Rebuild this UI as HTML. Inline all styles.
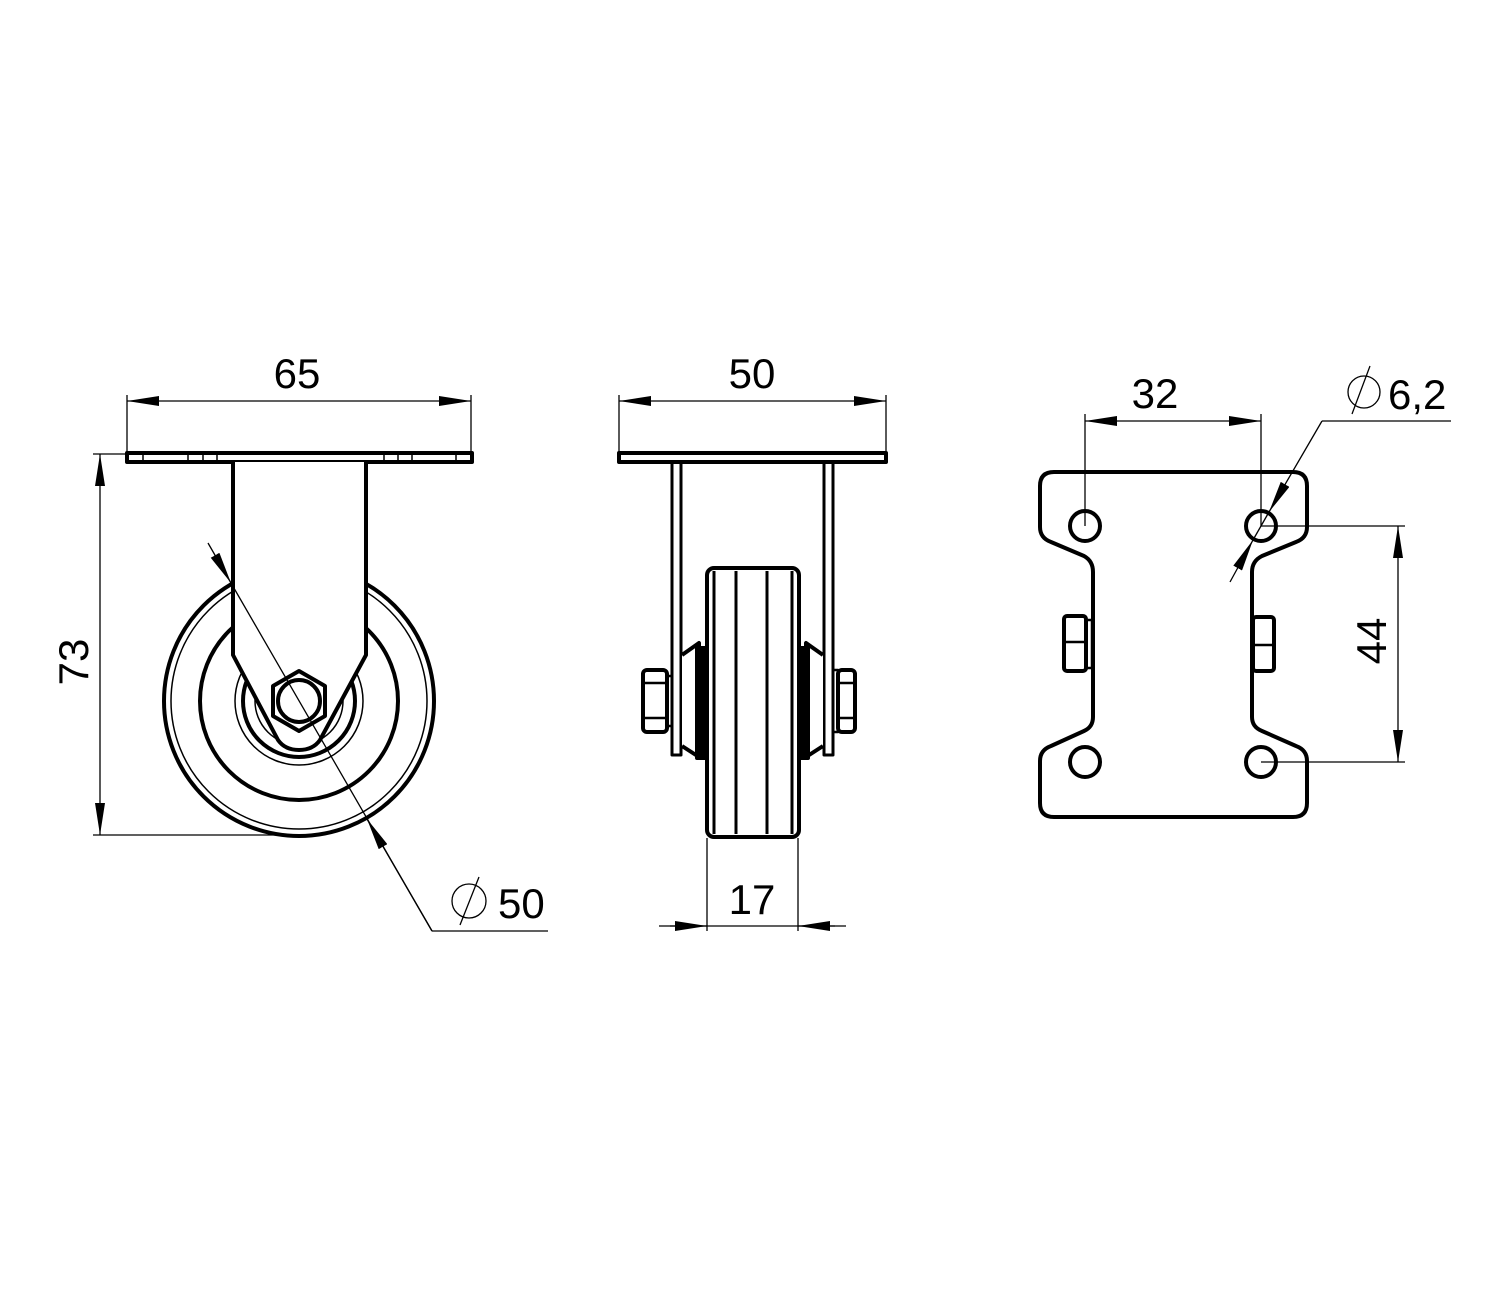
<!DOCTYPE html>
<html><head><meta charset="utf-8"><style>
html,body{margin:0;padding:0;background:#fff}
svg{display:block}
text{font-family:"Liberation Sans",sans-serif;font-size:42px;fill:#000}
</style></head><body>
<svg width="1500" height="1300" viewBox="0 0 1500 1300" xmlns="http://www.w3.org/2000/svg">
<defs>
<marker id="a" viewBox="0 0 32 10" refX="32" refY="5" markerWidth="32" markerHeight="10" markerUnits="userSpaceOnUse" orient="auto"><path d="M0,0 L32,5 L0,10 z" fill="#000"/></marker>
</defs>
<g fill="none" stroke="#000">
<g stroke-width="4" stroke-linejoin="round">
<rect x="127" y="453" width="345" height="9"/>
<circle cx="299" cy="701" r="135"/>
<circle cx="299" cy="701" r="99"/>
<circle cx="299" cy="701" r="56"/>
</g>
<circle cx="299" cy="701" r="128" stroke-width="1.5"/>
<circle cx="299" cy="701" r="64" stroke-width="1.5"/>
<circle cx="299" cy="701" r="44" stroke-width="1.5"/>
<path d="M233,462 V655 L278,740 Q285,750 299,750 Q313,750 320,740 L366,655 V462" fill="#fff" stroke-width="4" stroke-linejoin="round"/>
<g stroke-width="1.5">
<line x1="143" y1="453" x2="143" y2="462"/><line x1="188" y1="453" x2="188" y2="462"/><line x1="203" y1="453" x2="203" y2="462"/><line x1="217" y1="453" x2="217" y2="462"/>
<line x1="384" y1="453" x2="384" y2="462"/><line x1="398" y1="453" x2="398" y2="462"/><line x1="412" y1="453" x2="412" y2="462"/><line x1="456" y1="453" x2="456" y2="462"/>
</g>
<polygon points="299,671 325,686 325,716 299,731 273,716 273,686" fill="#fff" stroke-width="4" stroke-linejoin="round"/>
<circle cx="299" cy="701" r="21" stroke-width="4"/>
<g stroke-width="1.3">
<line x1="127" y1="395" x2="127" y2="453"/><line x1="471" y1="395" x2="471" y2="453"/>
<line x1="300" y1="401" x2="127" y2="401" marker-end="url(#a)"/><line x1="300" y1="401" x2="471" y2="401" marker-end="url(#a)"/>
<line x1="93" y1="454" x2="127" y2="454"/><line x1="93" y1="835" x2="300" y2="835"/>
<line x1="100" y1="650" x2="100" y2="454" marker-end="url(#a)"/><line x1="100" y1="650" x2="100" y2="835" marker-end="url(#a)"/>
<line x1="208" y1="543" x2="231" y2="583" marker-end="url(#a)"/>
<line x1="231" y1="583" x2="432" y2="931"/>
<line x1="432" y1="931" x2="367" y2="819" marker-end="url(#a)"/>
<line x1="432" y1="931" x2="548" y2="931"/>
<circle cx="469" cy="901" r="17"/><line x1="460" y1="925" x2="479" y2="877"/>
</g>
<g stroke-width="4" stroke-linejoin="round">
<rect x="619" y="453" width="267" height="9"/>
<rect x="672" y="462" width="9" height="293" stroke-width="3"/>
<rect x="824" y="462" width="9" height="293" stroke-width="3"/>
<path d="M682,655 L699,643 V757 L682,746" fill="#fff"/>
<path d="M823,655 L806,643 V757 L823,746" fill="#fff"/>
<rect x="697" y="648" width="10" height="110" fill="#000"/>
<rect x="798" y="648" width="10" height="110" fill="#000"/>
<rect x="643" y="670" width="24" height="62" rx="4" fill="#fff"/>
<line x1="643" y1="683" x2="667" y2="683" stroke-width="2.5"/><line x1="643" y1="718" x2="667" y2="718" stroke-width="2.5"/>
<rect x="667" y="676" width="5" height="50" stroke-width="2.5"/>
<rect x="838" y="670" width="17" height="62" rx="4" fill="#fff"/>
<line x1="838" y1="683" x2="855" y2="683" stroke-width="2.5"/><line x1="838" y1="718" x2="855" y2="718" stroke-width="2.5"/>
<rect x="833" y="670" width="5" height="62" stroke-width="2.5"/>
<rect x="707" y="568" width="92" height="269" rx="7" fill="#fff"/>
</g>
<g stroke-width="3">
<line x1="714" y1="571" x2="714" y2="834"/><line x1="736" y1="571" x2="736" y2="834"/><line x1="767" y1="571" x2="767" y2="834"/><line x1="792" y1="571" x2="792" y2="834"/>
</g>
<g stroke-width="1.3">
<line x1="619" y1="395" x2="619" y2="453"/><line x1="886" y1="395" x2="886" y2="453"/>
<line x1="752" y1="401" x2="619" y2="401" marker-end="url(#a)"/><line x1="752" y1="401" x2="886" y2="401" marker-end="url(#a)"/>
<line x1="707" y1="838" x2="707" y2="931"/><line x1="798" y1="838" x2="798" y2="931"/>
<line x1="659" y1="926" x2="846" y2="926"/>
<line x1="670" y1="926" x2="707" y2="926" marker-end="url(#a)"/><line x1="835" y1="926" x2="798" y2="926" marker-end="url(#a)"/>
</g>
<path d="M1054,472 H1293 Q1307,472 1307,486 V527 Q1307,538 1296,542 L1262,556 Q1252,561 1252,572 V717 Q1252,727 1262,731 L1296,746 Q1307,750 1307,761 V803 Q1307,817 1293,817 H1054 Q1040,817 1040,803 V761 Q1040,750 1051,746 L1084,731 Q1093,727 1093,717 V572 Q1093,561 1084,556 L1051,542 Q1040,538 1040,527 V486 Q1040,472 1054,472 Z" stroke-width="4" stroke-linejoin="round"/>
<g stroke-width="4">
<circle cx="1085" cy="526" r="15"/><circle cx="1261" cy="526" r="15"/>
<circle cx="1085" cy="762" r="15"/><circle cx="1261" cy="762" r="15"/>
<rect x="1064" y="616" width="22" height="55" rx="3"/>
<line x1="1064" y1="642" x2="1086" y2="642" stroke-width="2.5"/>
<rect x="1086" y="620" width="6" height="48" stroke-width="2.5"/>
<rect x="1253" y="617" width="21" height="54" rx="3"/>
<line x1="1253" y1="645" x2="1274" y2="645" stroke-width="2.5"/>
</g>
<g stroke-width="1.3">
<line x1="1085" y1="414" x2="1085" y2="526"/><line x1="1261" y1="414" x2="1261" y2="526"/>
<line x1="1170" y1="421" x2="1085" y2="421" marker-end="url(#a)"/><line x1="1170" y1="421" x2="1261" y2="421" marker-end="url(#a)"/>
<line x1="1261" y1="526" x2="1405" y2="526"/><line x1="1261" y1="762" x2="1405" y2="762"/>
<line x1="1398" y1="640" x2="1398" y2="526" marker-end="url(#a)"/><line x1="1398" y1="640" x2="1398" y2="762" marker-end="url(#a)"/>
<line x1="1451" y1="421" x2="1322" y2="421"/>
<line x1="1322" y1="421" x2="1269" y2="512" marker-end="url(#a)"/>
<line x1="1230" y1="582" x2="1253" y2="540" marker-end="url(#a)"/>
<line x1="1253" y1="540" x2="1269" y2="512"/>
<circle cx="1364" cy="392" r="16"/><line x1="1352" y1="414" x2="1370" y2="366"/>
</g>
</g>
<text x="297" y="388" text-anchor="middle">65</text>
<text x="752" y="388" text-anchor="middle">50</text>
<text x="1155" y="408" text-anchor="middle">32</text>
<text x="1388" y="409">6,2</text>
<text x="498" y="918">50</text>
<text x="752" y="914" text-anchor="middle">17</text>
<text transform="translate(88,662) rotate(-90)" text-anchor="middle">73</text>
<text transform="translate(1386,641) rotate(-90)" text-anchor="middle">44</text>
</svg>
</body></html>
